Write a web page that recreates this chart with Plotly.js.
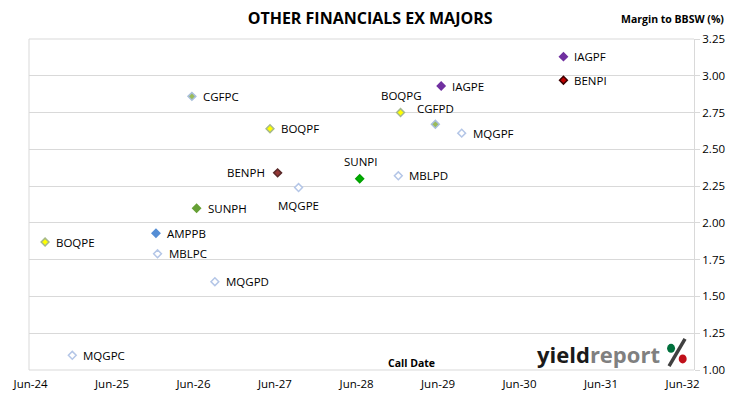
<!DOCTYPE html>
<html>
<head>
<meta charset="utf-8">
<script src="https://cdn.plot.ly/plotly-3.0.1.min.js"></script>
<style>html,body{margin:0;padding:0;background:#fff;}#chart{width:730px;height:399px;}</style>
</head>
<body>
<div id="chart"></div>
<script>
// Data
const codes = ["MQGPC","BOQPE","AMPPB","MBLPC","CGFPC","SUNPH","MQGPD","BOQPF","BENPH","MQGPE","SUNPI","MBLPD","BOQPG","CGFPD","IAGPE","MQGPF","IAGPF","BENPI"];
const callDates = ["2024-12-05","2024-08-05","2025-12-15","2025-12-22","2026-05-25","2026-06-15","2026-09-05","2027-05-10","2027-06-13","2027-09-15","2028-06-15","2028-12-05","2028-12-15","2029-05-20","2029-06-15","2029-09-15","2030-12-15","2030-12-15"];
const margins = [1.10,1.87,1.93,1.79,2.86,2.10,1.60,2.64,2.34,2.24,2.30,2.32,2.75,2.67,2.93,2.61,3.13,2.97];
const xTickVals = ["2024-06-01","2025-06-01","2026-06-01","2027-06-01","2028-06-01","2029-06-01","2030-06-01","2031-06-01","2032-06-01"];
const xTickText = ["Jun-24","Jun-25","Jun-26","Jun-27","Jun-28","Jun-29","Jun-30","Jun-31","Jun-32"];
const yTickVals = [1.00,1.25,1.50,1.75,2.00,2.25,2.50,2.75,3.00,3.25];

// Styles (by code): fill, outline, label placement
const R = {xanchor:"left", xshift:9, yshift:0};
const L = {xanchor:"right", xshift:-11, yshift:0};
const T = {xanchor:"center", xshift:1, yshift:17};
const B = {xanchor:"center", xshift:0, yshift:-18};
const style = {
  MQGPC:{fill:"#ffffff",line:"#b4c6e7",lab:R},
  BOQPE:{fill:"#ffff00",line:"#a6b98a",lab:R},
  AMPPB:{fill:"#558ed5",line:"#558ed5",lab:R},
  MBLPC:{fill:"#ffffff",line:"#b4c6e7",lab:R},
  CGFPC:{fill:"#9bbb59",line:"#a9bfdc",lab:R},
  SUNPH:{fill:"#66a035",line:"#66a035",lab:R},
  MQGPD:{fill:"#ffffff",line:"#b4c6e7",lab:R},
  BOQPF:{fill:"#ffff00",line:"#a6b98a",lab:R},
  BENPH:{fill:"#953735",line:"#5a2a2a",lab:L},
  MQGPE:{fill:"#ffffff",line:"#b4c6e7",lab:B},
  SUNPI:{fill:"#00b000",line:"#00a000",lab:T},
  MBLPD:{fill:"#ffffff",line:"#b4c6e7",lab:R},
  BOQPG:{fill:"#ffff00",line:"#a6b98a",lab:T},
  CGFPD:{fill:"#9bbb59",line:"#a9bfdc",lab:{xanchor:"center", xshift:0, yshift:16}},
  IAGPE:{fill:"#7030a0",line:"#7030a0",lab:R},
  MQGPF:{fill:"#ffffff",line:"#b4c6e7",lab:R},
  IAGPF:{fill:"#7030a0",line:"#7030a0",lab:R},
  BENPI:{fill:"#c00000",line:"#3a0000",lab:R}
};

const trace = {
  type:"scatter", mode:"markers",
  x: callDates, y: margins,
  marker:{symbol:"diamond", size:6,
    color: codes.map(c=>style[c].fill),
    line:{width:1.5, color: codes.map(c=>style[c].line)}},
  cliponaxis:false, hoverinfo:"skip", showlegend:false
};

const labelAnns = codes.map((c,i)=>({
  xref:"x", yref:"y", x:callDates[i], y:margins[i], text:c, showarrow:false,
  xanchor:style[c].lab.xanchor, yanchor:"middle", xshift:style[c].lab.xshift, yshift:style[c].lab.yshift,
  font:{family:"Open Sans, sans-serif", size:11.5, color:"#000"}
}));

const layout = {
  width:730, height:399,
  margin:{l:29, r:36, t:39, b:29},
  paper_bgcolor:"#fff", plot_bgcolor:"#fff",
  font:{family:"Open Sans, sans-serif", size:11, color:"#000"},
  title:{text:"<b>OTHER FINANCIALS EX MAJORS</b>", x:0.507, xanchor:"center", y:0.953, yanchor:"middle",
    font:{family:"Open Sans, sans-serif", size:16, color:"#000"}},
  xaxis:{type:"date", range:["2024-05-25","2032-07-22"], tickvals:xTickVals, ticktext:xTickText,
    showgrid:false, zeroline:false, showline:false, ticks:"", tickfont:{size:11.5, color:"#000"}, ticklabelstandoff:5},
  yaxis:{range:[1,3.25], side:"right", tickvals:yTickVals, ticktext:yTickVals.map(v=>v.toFixed(2)),
    showgrid:true, gridcolor:"#d9d9d9", gridwidth:1, zeroline:false,
    showline:true, linecolor:"#d9d9d9", ticks:"outside", ticklen:5, tickcolor:"#d9d9d9",
    tickfont:{size:11.5, color:"#000"}},
  shapes:[
    {type:"line", xref:"paper", yref:"paper", x0:0, x1:0, y0:0, y1:1, line:{color:"#d9d9d9", width:1}},
    {type:"line", xref:"paper", yref:"paper", x0:0, x1:1, y0:1, y1:1, line:{color:"#d9d9d9", width:1}},
    {type:"line", xref:"paper", yref:"paper", x0:0, x1:1, y0:0, y1:0, line:{color:"#d9d9d9", width:1}},
    {type:"line", xref:"paper", yref:"paper", x0:0.9625, x1:0.9865, y0:0.012, y1:0.094, line:{color:"#404040", width:3.5}},
    {type:"circle", xref:"paper", yref:"paper", x0:0.9595, x1:0.9715, y0:0.052, y1:0.079, fillcolor:"#00703c", line:{width:0}},
    {type:"circle", xref:"paper", yref:"paper", x0:0.977, x1:0.989, y0:0.020, y1:0.047, fillcolor:"#c0101a", line:{width:0}}
  ],
  annotations:[
    {xref:"paper", yref:"paper", x:1.048, y:1.06, xanchor:"right", yanchor:"middle", showarrow:false,
      text:"<b>Margin to BBSW (%)</b>", font:{size:10.5, color:"#000"}},
    {xref:"paper", yref:"paper", x:0.575, y:0.022, xanchor:"center", yanchor:"middle", showarrow:false,
      text:"<b>Call Date</b>", font:{size:10.5, color:"#000"}},
    {xref:"paper", yref:"paper", x:0.952, y:0.048, xanchor:"right", yanchor:"middle", showarrow:false,
      text:"<b><span style='color:#1a1a1a'>yield</span><span style='color:#808080'>report</span></b>",
      font:{family:"Open Sans, sans-serif", size:22}}
  ].concat(labelAnns)
};

Plotly.newPlot("chart", [trace], layout, {displayModeBar:false, staticPlot:true});
</script>
</body>
</html>
